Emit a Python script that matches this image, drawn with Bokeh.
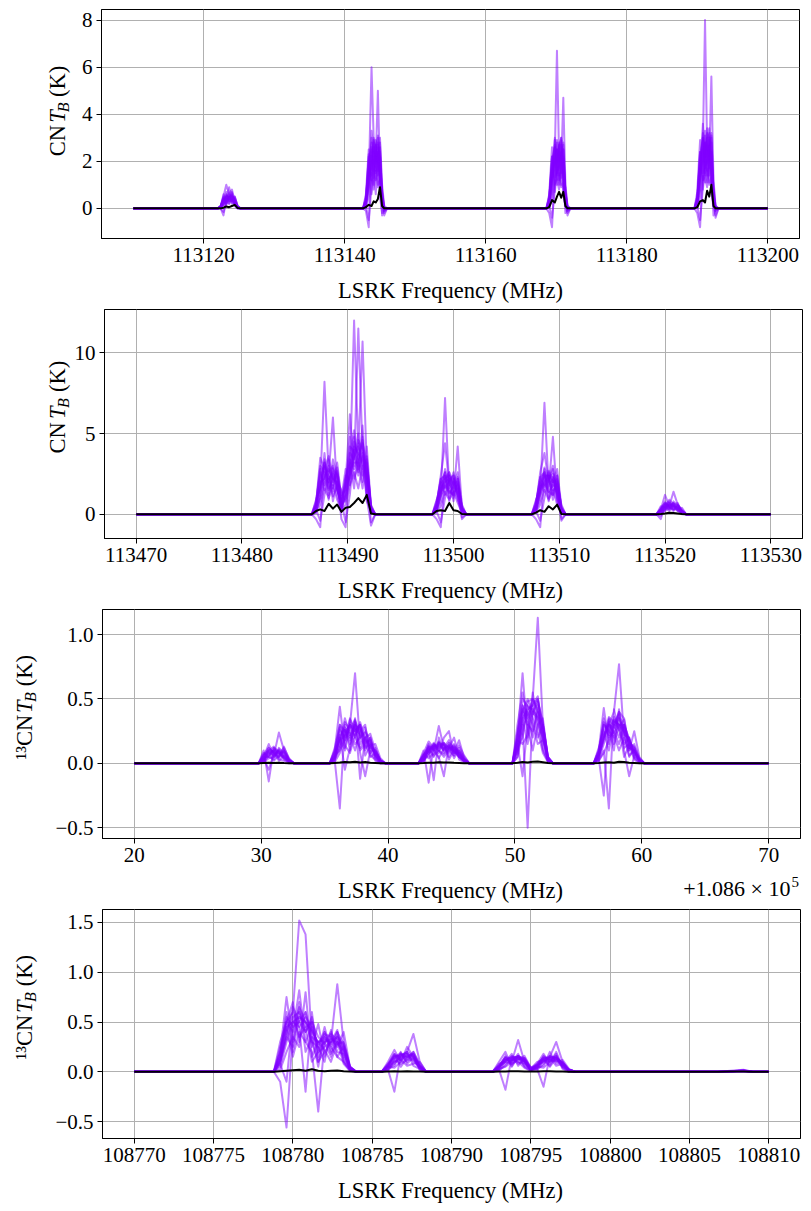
from math import pi

from bokeh.core.properties import value
from bokeh.embed import file_html
from bokeh.layouts import column, row
from bokeh.models import FixedTicker, Range1d
from bokeh.plotting import figure
from bokeh.resources import INLINE

# ---------------------------------------------------------------------------
# Spectra: channel windows (MHz) around each hyperfine group; outside the
# windows every spectrum sits at 0 K.  Each predictive sample lists its
# brightness temperature (K) per window; *_obs is the observed spectrum.
# ---------------------------------------------------------------------------

# CN, first spectral window
cn_a_span = [113110.0, 113200.0]
cn_a_windows = [
    [113122.0, 113122.4, 113122.8, 113123.2, 113123.6, 113124.0, 113124.4, 113124.8, 113125.2],
    [113142.6, 113143.0, 113143.4, 113143.8, 113144.1, 113144.4, 113144.7, 113145.0, 113145.3, 113145.6, 113146.0],
    [113168.6, 113169.0, 113169.4, 113169.8, 113170.1, 113170.4, 113170.7, 113171.0, 113171.3, 113171.6, 113172.0],
    [113189.6, 113190.0, 113190.4, 113190.8, 113191.1, 113191.4, 113191.7, 113192.0, 113192.3, 113192.6, 113193.0],
]
cn_a_samples = [
    [[0, 0.1, 0.5, 1.0, 0.6, 0.8, 0.3, 0.05, 0],
     [0, 0.3, 1.2, 6.0, 3.0, 2.0, 5.0, 1.5, 0.3, -0.2, 0],
     [0, 0.2, 1.0, 2.4, 6.7, 2.2, 1.8, 4.7, 1.0, 0.1, 0],
     [0, 0.3, 1.2, 2.8, 8.0, 2.6, 2.0, 5.6, 1.2, 0.1, 0]],
    [[0, 0, -0.3, 0.4, 0.9, 0.4, 0.5, 0.1, 0],
     [0, 0.2, 1.5, 3.3, 2.4, 2.0, 3.1, 1.8, 0.2, 0, 0],
     [0, 0.3, 1.4, 3.0, 2.0, 2.6, 3.0, 1.5, 0.3, -0.2, 0],
     [0, 0.3, 1.6, 3.6, 2.2, 3.2, 3.0, 1.6, 0.3, -0.3, 0]],
    [[0, 0.05, 0.3, 0.6, 0.4, 0.7, 0.2, 0, 0],
     [0, -0.1, -0.8, 2.0, 2.8, 1.6, 2.2, 2.6, 0.4, -0.3, 0],
     [0, -0.2, -0.8, 1.5, 2.9, 1.2, 2.2, 2.5, 0.6, 0, 0],
     [0, -0.2, -0.8, 1.6, 3.3, 1.4, 2.4, 3.1, 0.6, 0, 0]],
    [[0, 0.1, 0.4, 0.2, 0.5, 0.3, 0.45, 0.1, 0],
     [0, 0.4, 2.2, 1.2, 3.0, 2.5, 1.4, 2.0, 0.6, 0, 0],
     [0, 0.5, 2.2, 1.0, 1.8, 2.8, 1.3, 2.0, 0.2, -0.3, 0],
     [0, 0.5, 2.4, 1.2, 2.0, 3.4, 1.4, 2.3, 0.3, -0.4, 0]],
    [[0, 0, 0.2, 0.5, 0.3, 0.4, 0.15, 0, 0],
     [0, 0.1, 0.8, 2.6, 1.0, 2.2, 2.8, 0.5, -0.2, 0, 0],
     [0, 0.1, 0.6, 2.6, 1.4, 1.9, 2.6, 0.6, 0.1, 0, 0],
     [0, 0.1, 0.8, 3.0, 1.5, 2.0, 2.9, 0.8, 0.1, 0, 0]],
    [[0, 0.05, 0.6, 0.3, 0.2, 0.55, 0.3, 0.05, 0],
     [0, 0.2, 1.0, 1.8, 2.2, 1.2, 1.8, 3.0, 1.0, 0.1, 0],
     [0, 0.2, 1.6, 1.9, 2.5, 1.0, 1.6, 2.8, 0.9, 0, 0],
     [0, 0.3, 1.7, 2.0, 2.8, 1.1, 1.8, 3.2, 1.0, 0, 0]],
    [[0, 0, 0.15, 0.35, 0.5, 0.25, 0.2, 0, 0],
     [0, 0, 0.5, 1.5, 0.8, 1.6, 1.0, 1.2, 0.3, 0, 0],
     [0, 0, 0.4, 1.2, 1.0, 1.5, 0.9, 1.1, 0.2, 0, 0],
     [0, 0, 0.5, 1.4, 1.1, 1.7, 1.0, 1.3, 0.2, 0, 0]],
    [[0, 0.1, 0.3, 0.7, 0.2, 0.35, 0.5, 0.1, 0],
     [0, 0.3, 1.8, 2.8, 1.7, 0.6, 2.4, 1.4, -0.3, 0, 0],
     [0, 0.4, 2.0, 2.7, 1.2, 0.8, 2.3, 1.3, -0.2, 0, 0],
     [0, 0.4, 2.2, 3.0, 1.3, 0.9, 2.6, 1.5, -0.3, 0, 0]],
    [[0, 0, -0.15, 0.25, 0.45, 0.6, 0.1, 0, 0],
     [0, 0.1, -0.5, 0.9, 1.9, 2.9, 0.9, 2.2, 0.8, 0, 0],
     [0, 0.1, -0.4, 0.8, 2.0, 2.4, 1.0, 2.1, 0.7, 0.1, 0],
     [0, 0.1, -0.5, 0.9, 2.2, 2.7, 1.1, 2.4, 0.8, 0.1, 0]],
    [[0, 0.05, 0.45, 0.2, 0.65, 0.2, 0.3, 0.05, 0],
     [0, 0.6, 2.5, 0.6, 1.4, 2.0, 2.6, 0.9, 0.1, 0, 0],
     [0, 0.6, 2.6, 0.7, 1.5, 1.8, 2.9, 0.8, 0.1, 0, 0],
     [0, 0.7, 2.9, 0.8, 1.7, 2.1, 3.2, 0.9, 0.1, 0, 0]],
    [[0, 0.05, 0.25, 0.45, 0.55, 0.35, 0.25, 0.05, 0],
     [0, 0.2, 1.2, 2.2, 2.6, 1.9, 2.4, 1.7, 0.5, 0, 0],
     [0, 0.2, 1.3, 2.1, 2.5, 2.0, 2.4, 1.8, 0.5, 0, 0],
     [0, 0.2, 1.4, 2.4, 2.8, 2.2, 2.7, 2.0, 0.5, 0, 0]],
    [[0, 0.1, 0.35, 0.5, 0.3, 0.5, 0.35, 0.05, 0],
     [0, 0.4, 2.0, 2.5, 1.6, 2.7, 1.9, 2.2, 0.3, -0.1, 0],
     [0, 0.4, 1.9, 2.6, 1.5, 2.7, 2.0, 2.2, 0.3, -0.1, 0],
     [0, 0.4, 2.1, 2.9, 1.7, 3.0, 2.2, 2.4, 0.3, -0.1, 0]],
    [[0, 0.02, 0.2, 0.3, 0.6, 0.45, 0.15, 0.02, 0],
     [0, 0.1, 1.4, 1.7, 2.9, 2.2, 2.7, 1.2, 0.7, 0, 0],
     [0, 0.1, 1.2, 1.8, 2.8, 2.3, 2.7, 1.3, 0.7, 0, 0],
     [0, 0.1, 1.3, 2.0, 3.1, 2.5, 3.0, 1.4, 0.7, 0, 0]],
    [[0, 0.08, 0.5, 0.4, 0.35, 0.3, 0.4, 0.08, 0],
     [0, 0.3, 0.9, 3.0, 2.0, 1.5, 2.2, 2.4, 0.2, 0, 0],
     [0, 0.3, 0.8, 2.9, 2.1, 1.4, 2.3, 2.5, 0.2, 0, 0],
     [0, 0.3, 0.9, 3.2, 2.3, 1.6, 2.6, 2.8, 0.2, 0, 0]],
    [[0, 0.03, 0.15, 0.55, 0.4, 0.65, 0.25, 0.03, 0],
     [0, 0.5, 1.6, 2.2, 1.3, 2.6, 3.0, 1.6, 0.4, -0.1, 0],
     [0, 0.5, 1.7, 2.3, 1.2, 2.5, 3.0, 1.7, 0.4, -0.1, 0],
     [0, 0.5, 1.8, 2.5, 1.4, 2.8, 3.4, 1.9, 0.4, -0.1, 0]],
    [[0, 0.06, 0.4, 0.15, 0.45, 0.5, 0.2, 0.04, 0],
     [0, 0.2, 2.3, 1.4, 2.4, 1.8, 1.6, 2.8, 0.6, 0, 0],
     [0, 0.2, 2.2, 1.3, 2.5, 1.9, 1.5, 2.7, 0.6, 0, 0],
     [0, 0.2, 2.4, 1.5, 2.7, 2.1, 1.7, 3.0, 0.6, 0, 0]],
]
cn_a_obs = [
    [0, 0, 0.03, 0.08, 0.05, 0.1, 0.15, 0.02, 0],
    [0, 0.05, 0.15, 0.1, 0.3, 0.25, 0.4, 0.9, 0.1, 0, 0],
    [0, 0.05, 0.35, 0.25, 0.5, 0.7, 0.45, 0.7, 0.1, 0, 0],
    [0, 0.05, 0.3, 0.35, 0.25, 0.75, 0.5, 1.0, 0.1, 0, 0],
]

# CN, second spectral window
cn_b_span = [113470.0, 113530.0]
cn_b_windows = [
    [113486.6, 113487.0, 113487.4, 113487.8, 113488.2, 113488.6, 113489.0, 113489.4,
     113489.8, 113490.2, 113490.6, 113491.0, 113491.4, 113491.8, 113492.2, 113492.6],
    [113498.0, 113498.4, 113498.8, 113499.2, 113499.6, 113500.0, 113500.4, 113500.8, 113501.2],
    [113507.4, 113507.8, 113508.2, 113508.6, 113509.0, 113509.4, 113509.8, 113510.2, 113510.6],
    [113519.2, 113519.6, 113520.0, 113520.4, 113520.8, 113521.2, 113521.6, 113522.0],
]
cn_b_samples = [
    [[0, 0.4, 1.8, 8.2, 2.5, 6.0, 1.5, 0.5, 1.0, 2.5, 12.0, 4.0, 10.7, 3.0, 0.3, 0],
     [0, 0.3, 1.2, 7.2, 1.5, 1.2, 4.2, 0.4, 0],
     [0, 0.3, 1.4, 6.9, 1.6, 4.8, 1.0, 0.2, 0],
     [0, 0.3, 1.2, 0.5, 1.4, 0.6, 0.2, 0]],
    [[0, 0.6, 3.5, 2.8, 3.6, 2.0, 2.5, 0.4, 2.0, 6.2, 3.0, 11.5, 4.0, 2.2, 0.2, 0],
     [0, 0.6, 2.4, 4.4, 1.8, 2.6, 1.5, 0.3, 0],
     [0, 0.6, 2.6, 3.8, 2.0, 2.8, 1.4, 0.3, 0],
     [0, 0.5, 0.4, 0.9, 0.6, 0.7, 0.1, 0]],
    [[0, -0.3, -0.8, 3.0, 1.6, 3.4, 2.2, -0.3, -0.8, 3.5, 5.2, 2.8, 4.8, 1.0, -0.7, 0],
     [0, -0.3, -0.8, 2.2, 2.6, 1.0, 2.2, -0.2, 0],
     [0, -0.3, -0.8, 2.4, 2.4, 1.2, 2.2, -0.4, 0],
     [0, -0.3, 0.6, 0.8, 0.3, 0.5, 0.2, 0]],
    [[0, 0.8, 2.6, 1.5, 2.4, 1.6, 3.2, 1.0, 2.8, 1.8, 4.5, 3.6, 2.0, 4.2, 0.5, 0],
     [0, 0.8, 2.0, 1.2, 2.4, 1.8, 2.6, 0.6, 0],
     [0, 0.8, 2.0, 1.4, 2.6, 2.0, 2.8, 0.5, 0],
     [0, 0.2, 0.8, 0.4, 0.7, 0.3, 0.4, 0]],
    [[0, 0.2, 1.0, 3.8, 1.2, 2.6, 1.2, 0.2, 1.4, 4.8, 2.2, 3.0, 5.5, 1.5, 0.1, 0],
     [0, 0.2, 0.8, 2.6, 1.0, 2.2, 0.9, 0.1, 0],
     [0, 0.2, 0.9, 2.8, 1.0, 2.3, 0.8, 0.1, 0],
     [0, 0.1, 0.3, 0.6, 0.5, 0.2, 0.1, 0]],
    [[0, 0.5, 2.0, 2.2, 3.0, 0.8, 2.0, 1.5, 0.8, 2.4, 3.8, 5.0, 2.4, 3.2, 0.6, 0],
     [0, 0.4, 1.6, 2.0, 2.2, 0.8, 1.9, 0.5, 0],
     [0, 0.4, 1.7, 2.0, 2.4, 0.9, 2.0, 0.6, 0],
     [0, 0.3, 0.5, 0.3, 0.8, 0.5, 0.2, 0]],
    [[0, 0.1, 0.6, 1.6, 1.0, 1.8, 0.9, 0.3, 0.6, 1.8, 2.6, 1.6, 3.0, 1.2, 0.1, 0],
     [0, 0.1, 0.5, 1.4, 0.9, 1.4, 0.7, 0.1, 0],
     [0, 0.1, 0.6, 1.5, 0.9, 1.5, 0.6, 0.1, 0],
     [0, 0, 0.2, 0.4, 0.3, 0.3, 0, 0]],
    [[0, 0.7, 3.0, 2.6, 0.9, 2.9, 1.6, 0.6, 2.2, 3.2, 1.6, 4.4, 3.4, 2.6, -0.5, 0],
     [0, 0.7, 2.2, 2.4, 0.8, 2.0, 1.2, -0.3, 0],
     [0, 0.7, 2.3, 2.6, 0.8, 2.1, 1.2, -0.3, 0],
     [0, 0.4, 0.7, 0.5, 0.2, 0.6, 0.3, 0]],
    [[0, 0.3, -0.4, 1.2, 2.2, 1.4, 2.6, 0.8, -0.5, 1.2, 4.0, 2.4, 3.8, 0.8, 0.2, 0],
     [0, 0.2, -0.5, 1.0, 2.0, 2.4, 1.0, 0.3, 0],
     [0, 0.2, -0.4, 1.0, 2.1, 3.0, 1.0, 0.3, 0],
     [0, -0.1, 0.3, 0.7, 0.6, 0.2, 0.1, 0]],
    [[0, 0.9, 1.6, 3.2, 2.0, 1.1, 1.8, 0.2, 1.6, 2.8, 3.2, 3.2, 1.6, 3.6, 0.4, 0],
     [0, 0.9, 1.4, 1.8, 1.4, 1.2, 2.2, 0.4, 0],
     [0, 0.9, 1.5, 1.9, 1.4, 1.2, 2.4, 0.4, 0],
     [0, 0.2, 0.4, 0.2, 0.5, 0.4, 0.2, 0]],
    [[0, 0.3, 1.5, 2.4, 2.8, 2.2, 2.0, 0.6, 1.2, 3.0, 4.2, 3.8, 3.2, 2.4, 0.3, 0],
     [0, 0.3, 1.4, 2.2, 2.4, 1.6, 1.8, 0.3, 0],
     [0, 0.3, 1.5, 2.3, 2.4, 1.7, 1.9, 0.3, 0],
     [0, 0.2, 0.5, 0.6, 0.5, 0.4, 0.1, 0]],
    [[0, 0.5, 2.2, 3.2, 2.0, 2.8, 2.4, 0.9, 1.8, 3.8, 3.4, 4.6, 4.0, 2.0, 0.2, 0],
     [0, 0.5, 1.9, 2.6, 1.6, 2.2, 1.4, 0.2, 0],
     [0, 0.5, 2.0, 2.6, 1.7, 2.3, 1.5, 0.2, 0],
     [0, 0.3, 0.6, 0.4, 0.6, 0.3, 0.1, 0]],
    [[0, 0.2, 1.0, 2.0, 3.4, 1.8, 2.9, 0.4, 1.0, 2.6, 4.8, 3.0, 4.4, 3.0, 0.5, 0],
     [0, 0.2, 1.1, 1.8, 2.6, 1.9, 2.0, 0.4, 0],
     [0, 0.2, 1.2, 1.9, 2.7, 2.0, 2.1, 0.4, 0],
     [0, 0.1, 0.4, 0.7, 0.4, 0.5, 0.2, 0]],
    [[0, 0.6, 2.8, 1.8, 2.6, 3.0, 1.5, 0.8, 2.4, 2.2, 3.6, 4.2, 2.8, 3.4, 0.4, 0],
     [0, 0.6, 2.2, 1.6, 2.1, 2.4, 1.2, 0.3, 0],
     [0, 0.6, 2.3, 1.7, 2.2, 2.5, 1.3, 0.3, 0],
     [0, 0.3, 0.7, 0.5, 0.3, 0.4, 0.1, 0]],
    [[0, 0.4, 1.8, 2.9, 1.5, 2.2, 2.7, 1.2, 1.5, 3.4, 2.8, 3.5, 4.6, 1.8, 0.2, 0],
     [0, 0.4, 1.6, 2.4, 1.3, 1.7, 2.3, 0.3, 0],
     [0, 0.4, 1.7, 2.5, 1.4, 1.8, 2.4, 0.3, 0],
     [0, 0.2, 0.3, 0.5, 0.7, 0.3, 0.2, 0]],
    [[0, 0.1, 1.2, 3.4, 2.2, 2.5, 1.8, 0.5, 2.0, 4.2, 3.9, 2.6, 3.6, 2.8, 0.3, 0],
     [0, 0.2, 1.3, 2.8, 2.0, 1.4, 1.6, 0.2, 0],
     [0, 0.2, 1.4, 2.9, 2.1, 1.5, 1.7, 0.2, 0],
     [0, 0.1, 0.6, 0.3, 0.5, 0.6, 0.1, 0]],
]
cn_b_obs = [
    [0, 0.2, 0.3, 0.2, 0.65, 0.35, 0.6, 0.15, 0.4, 0.45, 0.7, 1.0, 0.7, 1.2, 0.05, 0],
    [0, 0.2, 0.25, 0.2, 0.7, 0.25, 0.2, 0.02, 0],
    [0, 0.1, 0.25, 0.15, 0.5, 0.3, 0.6, 0.02, 0],
    [0, 0.02, 0.05, 0.1, 0.08, 0.05, 0.02, 0],
]

# 13CN, first spectral window (axis shown as offset from 1.086e5 MHz)
c13_a_offset = 108600.0
c13_a_span = [108620.0, 108670.0]
c13_a_windows = [
    [108629.8, 108630.2, 108630.6, 108631.0, 108631.4, 108631.8, 108632.2, 108632.6],
    [108635.4, 108635.8, 108636.2, 108636.6, 108637.0, 108637.4, 108637.8, 108638.2,
     108638.6, 108639.0, 108639.4, 108639.8],
    [108642.4, 108642.8, 108643.2, 108643.6, 108644.0, 108644.4, 108644.8, 108645.2,
     108645.6, 108646.0, 108646.4],
    [108649.8, 108650.2, 108650.6, 108651.0, 108651.4, 108651.8, 108652.2, 108652.6, 108653.0],
    [108656.2, 108656.6, 108657.0, 108657.4, 108657.8, 108658.2, 108658.6, 108659.0,
     108659.4, 108659.8, 108660.2],
]
c13_a_samples = [
    [[0, 0.05, 0.15, 0.06, 0.24, 0.1, 0.02, 0],
     [0, 0.05, 0.2, 0.1, 0.3, 0.7, 0.15, 0.2, 0.23, 0.1, 0.02, 0],
     [0, 0.05, 0.15, 0.1, 0.29, 0.12, 0.18, 0.1, 0.05, 0.02, 0],
     [0, 0.1, 0.4, 0.3, 0.5, 1.13, 0.3, 0.05, 0],
     [0, 0.05, 0.2, 0.3, 0.4, 0.77, 0.2, 0.1, 0.25, 0.05, 0]],
    [[0, 0.1, -0.14, 0.12, 0.05, 0.13, 0.03, 0],
     [0, 0.1, 0.44, 0.12, 0.35, 0.25, 0.3, 0.1, 0.2, 0.05, 0.01, 0],
     [0, 0.1, -0.15, 0.15, 0.08, 0.2, 0.25, 0.06, 0.12, 0.03, 0],
     [0, 0.2, 0.7, 0.2, 0.55, 0.3, 0.2, 0.02, 0],
     [0, 0.1, 0.43, 0.15, 0.3, 0.4, 0.35, 0.12, 0.1, 0.02, 0]],
    [[0, 0.02, 0.1, 0.13, 0.08, 0.04, 0.01, 0],
     [0, 0.02, -0.35, 0.3, 0.1, 0.35, -0.12, 0.2, 0.08, 0.12, 0.02, 0],
     [0, 0.02, 0.12, -0.13, 0.2, 0.08, 0.12, 0.2, 0.05, 0.01, 0],
     [0, 0.05, 0.3, -0.5, 0.4, 0.5, 0.25, 0.03, 0],
     [0, 0.02, 0.1, -0.35, 0.42, 0.25, 0.15, 0.2, 0.05, 0.01, 0]],
    [[0, 0.08, 0.05, 0.03, 0.12, 0.08, 0.02, 0],
     [0, 0.12, 0.3, 0.25, 0.15, 0.28, 0.22, 0.12, 0.15, 0.04, 0, 0],
     [0, 0.08, 0.17, 0.12, 0.05, -0.1, 0.15, 0.08, 0.18, 0.04, 0],
     [0, 0.3, 0.55, 0.35, 0.2, 0.45, 0.12, 0.01, 0],
     [0, 0.08, 0.3, 0.25, 0.2, 0.35, 0.12, 0.15, 0.08, 0.03, 0]],
    [[0, 0.03, 0.12, 0.08, 0.02, 0.06, 0.01, 0],
     [0, 0.03, 0.15, 0.35, 0.22, 0.1, 0.25, 0.3, 0.05, 0.08, 0.01, 0],
     [0, 0.03, 0.06, 0.14, 0.12, 0.15, 0.05, 0.12, 0.08, 0.02, 0],
     [0, 0.12, 0.2, 0.45, 0.35, 0.2, 0.3, 0.05, 0],
     [0, 0.04, -0.25, 0.35, 0.15, 0.3, 0.25, 0.05, 0.12, 0.02, 0]],
    [[0, 0.01, 0.06, 0.1, 0.04, 0.1, 0.03, 0],
     [0, 0.06, 0.1, 0.18, 0.3, 0.2, 0.12, 0.18, 0.12, 0.1, 0.03, 0],
     [0, 0.06, 0.12, 0.05, 0.16, 0.1, 0.14, 0.04, 0.1, 0.05, 0],
     [0, 0.08, 0.35, 0.15, 0.4, 0.35, 0.1, 0.02, 0],
     [0, 0.12, 0.25, 0.1, 0.3, 0.2, 0.3, 0.18, 0.04, 0.01, 0]],
    [[0, 0.04, -0.05, 0.07, 0.1, 0.03, 0.01, 0],
     [0, 0.02, 0.22, -0.05, 0.12, 0.32, 0.08, -0.1, 0.1, 0.02, 0, 0],
     [0, 0.01, 0.08, 0.1, 0.04, 0.12, 0.08, 0.15, 0.03, 0.01, 0],
     [0, 0.15, -0.1, 0.3, 0.25, 0.4, 0.2, 0.04, 0],
     [0, 0.03, 0.15, 0.28, 0.1, 0.42, 0.1, -0.1, 0.06, 0.02, 0]],
    [[0, 0.02, 0.08, 0.02, 0.06, 0.12, 0.04, 0],
     [0, 0.08, 0.18, 0.22, 0.25, 0.15, 0.2, 0.25, 0.18, 0.06, 0.02, 0],
     [0, 0.04, 0.1, 0.16, 0.1, 0.05, 0.1, 0.06, 0.14, 0.06, 0],
     [0, 0.25, 0.45, 0.28, 0.1, 0.3, 0.35, 0.03, 0],
     [0, 0.07, 0.35, 0.2, 0.25, 0.15, 0.28, 0.1, 0.15, 0.04, 0]],
    [[0, 0.06, 0.1, 0.09, 0.03, 0.02, 0, 0],
     [0, 0.04, 0.28, 0.14, 0.08, 0.22, 0.3, 0.06, 0.14, 0.15, 0.04, 0],
     [0, 0.07, 0.04, 0.08, 0.14, 0.16, 0.03, 0.1, 0.05, 0.02, 0],
     [0, 0.05, 0.25, 0.4, 0.3, 0.15, 0.18, 0.02, 0],
     [0, 0.02, 0.08, 0.18, 0.33, 0.3, 0.05, 0.14, 0.03, 0, 0]],
    [[0, 0.01, 0.04, 0.05, 0.09, 0.05, 0.02, 0],
     [0, 0.01, 0.08, 0.26, 0.2, 0.3, 0.1, 0.15, 0.06, 0.03, 0, 0],
     [0, 0.02, 0.13, 0.06, 0.1, 0.07, 0.12, 0.13, 0.07, 0.03, 0],
     [0, 0.18, 0.15, 0.22, 0.45, 0.25, 0.08, 0.01, 0],
     [0, 0.06, 0.2, 0.32, 0.22, 0.1, 0.2, 0.06, 0.1, 0.03, 0]],
    [[0, 0.04, 0.08, 0.1, 0.07, 0.09, 0.02, 0],
     [0, 0.06, 0.2, 0.28, 0.22, 0.3, 0.26, 0.2, 0.14, 0.08, 0.02, 0],
     [0, 0.04, 0.1, 0.13, 0.15, 0.12, 0.14, 0.1, 0.07, 0.02, 0],
     [0, 0.15, 0.35, 0.42, 0.45, 0.5, 0.3, 0.04, 0],
     [0, 0.06, 0.22, 0.3, 0.28, 0.35, 0.26, 0.18, 0.1, 0.03, 0]],
    [[0, 0.06, 0.1, 0.05, 0.11, 0.06, 0.02, 0],
     [0, 0.1, 0.26, 0.2, 0.3, 0.25, 0.3, 0.16, 0.18, 0.06, 0.01, 0],
     [0, 0.06, 0.13, 0.1, 0.16, 0.14, 0.1, 0.12, 0.06, 0.02, 0],
     [0, 0.2, 0.45, 0.38, 0.5, 0.42, 0.25, 0.03, 0],
     [0, 0.09, 0.3, 0.26, 0.34, 0.3, 0.3, 0.14, 0.12, 0.02, 0]],
    [[0, 0.02, 0.06, 0.12, 0.09, 0.05, 0.01, 0],
     [0, 0.04, 0.14, 0.32, 0.26, 0.34, 0.2, 0.24, 0.1, 0.1, 0.02, 0],
     [0, 0.03, 0.08, 0.15, 0.12, 0.16, 0.12, 0.09, 0.08, 0.03, 0],
     [0, 0.12, 0.4, 0.5, 0.38, 0.48, 0.32, 0.05, 0],
     [0, 0.04, 0.18, 0.34, 0.3, 0.38, 0.22, 0.2, 0.08, 0.03, 0]],
    [[0, 0.07, 0.12, 0.08, 0.05, 0.1, 0.03, 0],
     [0, 0.08, 0.3, 0.18, 0.34, 0.22, 0.28, 0.14, 0.2, 0.05, 0.01, 0],
     [0, 0.05, 0.14, 0.11, 0.14, 0.1, 0.16, 0.11, 0.05, 0.02, 0],
     [0, 0.22, 0.5, 0.44, 0.42, 0.36, 0.22, 0.02, 0],
     [0, 0.1, 0.32, 0.22, 0.36, 0.28, 0.34, 0.12, 0.1, 0.02, 0]],
    [[0, 0.03, 0.09, 0.06, 0.1, 0.07, 0.02, 0],
     [0, 0.05, 0.22, 0.26, 0.18, 0.33, 0.22, 0.28, 0.12, 0.09, 0.02, 0],
     [0, 0.02, 0.11, 0.14, 0.1, 0.15, 0.11, 0.14, 0.09, 0.03, 0],
     [0, 0.1, 0.3, 0.48, 0.5, 0.4, 0.28, 0.04, 0],
     [0, 0.05, 0.26, 0.3, 0.24, 0.4, 0.24, 0.16, 0.13, 0.04, 0]],
    [[0, 0.05, 0.05, 0.11, 0.08, 0.04, 0.01, 0],
     [0, 0.03, 0.12, 0.24, 0.3, 0.2, 0.32, 0.18, 0.16, 0.07, 0.01, 0],
     [0, 0.06, 0.09, 0.12, 0.17, 0.11, 0.13, 0.08, 0.1, 0.02, 0],
     [0, 0.18, 0.42, 0.35, 0.46, 0.52, 0.2, 0.03, 0],
     [0, 0.07, 0.2, 0.36, 0.32, 0.26, 0.3, 0.19, 0.07, 0.02, 0]],
]
c13_a_obs = [
    [0, 0.002, 0.004, 0.003, 0.005, 0.002, 0.001, 0],
    [0, 0.003, 0.006, 0.01, 0.008, 0.012, 0.006, 0.01, 0.005, 0.003, 0.001, 0],
    [0, 0.002, 0.005, 0.004, 0.008, 0.006, 0.007, 0.004, 0.003, 0.001, 0],
    [0, 0.004, 0.01, 0.006, 0.012, 0.014, 0.008, 0.002, 0],
    [0, 0.002, 0.006, 0.008, 0.005, 0.012, 0.01, 0.004, 0.003, 0.001, 0],
]

# 13CN, second spectral window
c13_b_span = [108770.0, 108810.0]
c13_b_windows = [
    [108778.8, 108779.2, 108779.6, 108780.0, 108780.4, 108780.8, 108781.2, 108781.6,
     108782.0, 108782.4, 108782.8, 108783.2, 108783.6, 108784.0],
    [108785.6, 108786.0, 108786.4, 108786.8, 108787.2, 108787.6, 108788.0, 108788.4],
    [108792.6, 108793.0, 108793.4, 108793.8, 108794.2, 108794.6, 108795.0, 108795.4,
     108795.8, 108796.2, 108796.6, 108797.0, 108797.4, 108797.8],
    [108806.8, 108807.6, 108808.4, 108809.0],
]
c13_b_samples = [
    [[0, 0.1, 0.4, 0.6, 1.52, 1.38, 0.3, 0.1, 0.2, 0.3, 0.88, 0.3, 0.05, 0],
     [0, 0.05, 0.1, 0.15, 0.2, 0.38, 0.1, 0],
     [0, 0.05, 0.12, 0.1, 0.32, 0.1, 0.02, 0.05, 0.1, 0.15, 0.3, 0.1, 0.02, 0],
     [0, 0.01, 0.02, 0]],
    [[0, 0.2, 0.75, 0.3, 0.6, 0.4, 0.5, 0.2, 0.45, 0.2, 0.4, 0.2, 0.02, 0],
     [0, 0.1, 0.22, 0.1, 0.25, 0.15, 0.05, 0],
     [0, 0.1, 0.2, 0.05, 0.15, 0.12, 0.01, 0.08, 0.18, 0.08, 0.2, 0.05, 0.01, 0],
     [0, 0.005, 0.01, 0]],
    [[0, -0.1, -0.56, 0.4, 0.82, 0.3, 0.2, -0.4, 0.3, 0.4, 0.15, 0.1, 0.01, 0],
     [0, 0.02, -0.2, 0.18, 0.1, 0.2, 0.08, 0],
     [0, 0.02, -0.18, 0.15, 0.1, 0.08, 0.02, 0.03, -0.15, 0.16, 0.12, 0.08, 0.02, 0],
     [0, 0.004, 0.008, 0]],
    [[0, 0.3, 0.5, 0.7, 0.3, 0.6, 0.25, 0.48, 0.15, 0.35, 0.25, 0.4, 0.05, 0],
     [0, 0.08, 0.15, 0.12, 0.18, 0.1, 0.04, 0],
     [0, 0.08, 0.1, 0.18, 0.06, 0.14, 0.03, 0.1, 0.12, 0.1, 0.18, 0.04, 0, 0],
     [0, 0.006, 0.01, 0]],
    [[0, 0.05, 0.3, 0.5, 0.45, -0.2, 0.6, 0.1, 0.3, 0.15, 0.35, 0.12, 0.02, 0],
     [0, 0.03, 0.06, 0.2, 0.08, 0.15, 0.02, 0],
     [0, 0.03, 0.05, 0.1, 0.18, 0.05, 0.01, 0.04, 0.06, 0.2, 0.08, 0.1, 0.01, 0],
     [0, 0.003, 0.006, 0]],
    [[0, 0.15, 0.6, 0.2, 0.55, 0.5, 0.3, 0.25, 0.1, 0.42, 0.2, 0.18, 0.03, 0],
     [0, 0.06, 0.18, 0.05, 0.14, 0.2, 0.06, 0],
     [0, 0.06, 0.14, 0.08, 0.12, 0.16, 0.04, 0.06, 0.14, 0.05, 0.14, 0.06, 0.02, 0],
     [0, 0.005, 0.012, 0]],
    [[0, 0.02, 0.2, 0.35, 0.25, 0.8, 0.15, 0.3, 0.22, 0.1, 0.3, 0.08, 0.01, 0],
     [0, 0.01, 0.1, 0.12, 0.06, 0.08, 0.1, 0],
     [0, 0.01, 0.08, 0.12, 0.1, 0.04, 0.01, 0.02, 0.08, 0.12, 0.1, 0.12, 0.03, 0],
     [0, 0.004, 0.006, 0]],
    [[0, 0.25, 0.45, 0.15, 0.4, 0.3, 0.45, 0.15, 0.35, 0.25, 0.15, 0.25, 0.04, 0],
     [0, 0.04, 0.08, 0.16, 0.2, 0.06, 0.03, 0],
     [0, 0.04, 0.16, 0.06, 0.16, 0.1, 0.02, 0.07, 0.1, 0.14, 0.06, 0.08, 0.01, 0],
     [0, 0.006, 0.015, 0]],
    [[0, 0.08, -0.1, 0.55, 0.35, 0.45, 0.1, 0.2, 0.25, 0.3, 0.42, 0.1, 0.02, 0],
     [0, 0.02, 0.12, 0.08, 0.12, 0.12, 0.05, 0],
     [0, 0.02, 0.06, 0.14, 0.08, 0.12, 0.03, 0.03, 0.12, 0.06, 0.16, 0.03, 0, 0],
     [0, 0.003, 0.008, 0]],
    [[0, 0.12, 0.35, 0.25, 0.7, 0.2, 0.35, 0.05, 0.4, 0.18, 0.3, 0.15, 0.03, 0],
     [0, 0.05, 0.04, 0.1, 0.15, 0.18, 0.02, 0],
     [0, 0.05, 0.1, 0.08, 0.14, 0.06, 0.02, 0.05, 0.04, 0.1, 0.12, 0.05, 0.02, 0],
     [0, 0.005, 0.01, 0]],
    [[0, 0.1, 0.45, 0.5, 0.55, 0.5, 0.4, 0.3, 0.32, 0.3, 0.35, 0.25, 0.04, 0],
     [0, 0.06, 0.15, 0.17, 0.18, 0.15, 0.05, 0],
     [0, 0.05, 0.12, 0.14, 0.15, 0.1, 0.03, 0.06, 0.13, 0.15, 0.14, 0.08, 0.02, 0],
     [0, 0.004, 0.009, 0]],
    [[0, 0.18, 0.5, 0.6, 0.45, 0.55, 0.45, 0.25, 0.38, 0.35, 0.28, 0.3, 0.05, 0],
     [0, 0.08, 0.18, 0.14, 0.16, 0.18, 0.06, 0],
     [0, 0.07, 0.14, 0.11, 0.16, 0.12, 0.03, 0.07, 0.15, 0.12, 0.16, 0.07, 0.02, 0],
     [0, 0.005, 0.011, 0]],
    [[0, 0.08, 0.35, 0.55, 0.6, 0.45, 0.5, 0.35, 0.28, 0.38, 0.32, 0.22, 0.03, 0],
     [0, 0.04, 0.12, 0.18, 0.15, 0.13, 0.04, 0],
     [0, 0.04, 0.1, 0.16, 0.13, 0.11, 0.02, 0.05, 0.11, 0.16, 0.13, 0.09, 0.01, 0],
     [0, 0.003, 0.007, 0]],
    [[0, 0.2, 0.55, 0.45, 0.5, 0.6, 0.35, 0.3, 0.35, 0.28, 0.4, 0.28, 0.04, 0],
     [0, 0.07, 0.16, 0.15, 0.2, 0.16, 0.05, 0],
     [0, 0.06, 0.15, 0.13, 0.12, 0.14, 0.04, 0.08, 0.14, 0.14, 0.11, 0.1, 0.02, 0],
     [0, 0.006, 0.012, 0]],
    [[0, 0.12, 0.4, 0.65, 0.5, 0.4, 0.55, 0.22, 0.3, 0.33, 0.3, 0.2, 0.03, 0],
     [0, 0.05, 0.14, 0.19, 0.13, 0.17, 0.06, 0],
     [0, 0.03, 0.11, 0.15, 0.14, 0.09, 0.02, 0.06, 0.12, 0.13, 0.15, 0.06, 0.01, 0],
     [0, 0.004, 0.01, 0]],
    [[0, 0.15, 0.5, 0.4, 0.65, 0.5, 0.42, 0.28, 0.4, 0.26, 0.36, 0.26, 0.05, 0],
     [0, 0.06, 0.17, 0.12, 0.17, 0.14, 0.04, 0],
     [0, 0.05, 0.13, 0.12, 0.16, 0.13, 0.03, 0.04, 0.16, 0.11, 0.14, 0.08, 0.02, 0],
     [0, 0.005, 0.008, 0]],
]
c13_b_obs = [
    [0, 0.005, 0.01, 0.015, 0.02, 0.01, 0.025, 0.01, 0.005, 0.01, 0.012, 0.005, 0.002, 0],
    [0, 0.002, 0.005, 0.004, 0.006, 0.004, 0.002, 0],
    [0, 0.002, 0.004, 0.006, 0.005, 0.003, 0.002, 0.003, 0.005, 0.006, 0.004, 0.002, 0.001, 0],
    [0, 0.003, 0.004, 0],
]

# Axis ticks
cn_a_xticks = [113120, 113140, 113160, 113180, 113200]
cn_a_yticks = [0, 2, 4, 6, 8]
cn_b_xticks = [113470, 113480, 113490, 113500, 113510, 113520, 113530]
cn_b_yticks = [0, 5, 10]
c13_a_xticks = [108620, 108630, 108640, 108650, 108660, 108670]
c13_a_yticks = [-0.5, 0.0, 0.5, 1.0]
c13_b_xticks = [108770, 108775, 108780, 108785, 108790, 108795, 108800, 108805, 108810]
c13_b_yticks = [-0.5, 0.0, 0.5, 1.0, 1.5]

SAMPLE_COLOR = "#7f00ff"
FONT = "Liberation Serif"

# pixel layout of one panel: frame 698 x 229, 34 px of tick labels under it,
# then a strip carrying the axis title (which also holds the gap to the next panel)
FRAME_W, FRAME_H = 698, 229
BOTTOM, RIGHT, LEFT_TOTAL = 34, 12, 101
STRIP_H = 28
FULL_W = LEFT_TOTAL + FRAME_W + RIGHT
GAP = 8.5  # word space inside the rotated y titles


def spectrum(span, windows, values):
    """Join per-window values into one spectrum that is 0 K elsewhere."""
    xs, ys = [span[0]], [0.0]
    for w, v in zip(windows, values):
        for f, t in zip(w, v):
            xs.append(f)
            ys.append(t)
    xs.append(span[1])
    ys.append(0.0)
    return xs, ys


def minus(v, fmt):
    return fmt.format(v).replace("-", "\u2212")


def ints(ticks):
    return ["{:.0f}".format(t) for t in ticks]


def text_canvas(width, height):
    # bare canvas whose data units are pixels, used for the axis titles
    return figure(width=width, height=height, x_range=Range1d(0, width),
                  y_range=Range1d(0, height), x_axis_type=None, y_axis_type=None,
                  toolbar_location=None, output_backend="svg", min_border=0,
                  min_border_left=0, min_border_right=0, min_border_top=0,
                  min_border_bottom=0, outline_line_color=None,
                  background_fill_color="white", border_fill_color="white")


def put_text(f, x, y, text, size, style="normal", align="left", baseline="alphabetic", angle=0.0):
    f.text(x=[x], y=[y], text=[text], angle=angle, text_font=value(FONT),
           text_font_size=value(size), text_font_style=value(style), text_align=value(align),
           text_baseline=value(baseline), text_color="black")


def spectrum_plot(left, top, span, windows, samples, obs, xr, yr, xticks, yticks, yfmt, xlabels):
    p = figure(frame_width=FRAME_W, frame_height=FRAME_H, min_border_left=left,
               min_border_right=RIGHT, min_border_top=top, min_border_bottom=BOTTOM,
               x_range=Range1d(*xr), y_range=Range1d(*yr),
               toolbar_location=None, output_backend="svg", background_fill_color="white",
               border_fill_color="white")
    for s in samples:
        xs, ys = spectrum(span, windows, s)
        p.line(xs, ys, line_color=SAMPLE_COLOR, line_alpha=0.5, line_width=2, line_join="round")
    xs, ys = spectrum(span, windows, obs)
    p.line(xs, ys, line_color="black", line_width=2, line_join="round")

    p.xaxis.ticker = FixedTicker(ticks=xticks)
    p.yaxis.ticker = FixedTicker(ticks=yticks)
    p.xaxis.major_label_overrides = dict(zip(xticks, xlabels))
    p.yaxis.major_label_overrides = {t: minus(t, yfmt) for t in yticks}
    for ax in (p.xaxis[0], p.yaxis[0]):
        ax.major_label_text_font = FONT
        ax.major_label_text_font_size = "21px"
        ax.major_label_text_color = "black"
        ax.major_tick_out = 5
        ax.major_tick_in = 0
        ax.minor_tick_out = 0
        ax.minor_tick_in = 0
        ax.major_tick_line_color = "black"
        ax.axis_line_color = "black"
        ax.major_label_standoff = 4
    p.grid.grid_line_color = "#b0b0b0"
    p.grid.grid_line_width = 1
    p.outline_line_color = "black"
    p.outline_line_width = 1
    p.outline_line_alpha = 1
    return p


def build_panel(prefix, prefix_w, label_w, centre_x, top, gap_below, plot_args, offset_text=False):
    height = top + FRAME_H + BOTTOM
    p = spectrum_plot(LEFT_TOTAL - label_w, top, *plot_args)

    # rotated "<prefix> T_B (K)", centred on the frame; each entry carries the
    # piece's advance along the text line (word spaces added explicitly)
    lab = text_canvas(label_w, height)
    parts = [
        (prefix, "22.5px", "normal", 0, prefix_w + GAP),
        ("T", "22.5px", "italic", 0, 12.5),
        ("B", "16px", "italic", 6, 9.8 + GAP),
        ("(K)", "22.5px", "normal", 0, 31.2),
    ]
    total = sum(part[-1] for part in parts)
    y = BOTTOM + FRAME_H / 2 - total / 2
    for text, size, style, shift, w in parts:
        put_text(lab, centre_x + shift, y, text, size, style, baseline="middle", angle=pi / 2)
        y += w

    strip_h = STRIP_H + gap_below
    strip = text_canvas(FULL_W, strip_h)
    put_text(strip, LEFT_TOTAL + FRAME_W / 2, strip_h - 18, "LSRK Frequency (MHz)", "22.5px",
             align="center", baseline="middle")
    if offset_text:
        put_text(strip, LEFT_TOTAL + FRAME_W - 9, strip_h - 16, "+1.086 \u00d7 10", "22px",
                 align="right")
        put_text(strip, LEFT_TOTAL + FRAME_W - 8, strip_h - 9, "5", "15px")
    return column(row(lab, p, spacing=0), strip, spacing=0)


panel1 = build_panel("CN", 31.2, 71, 57, 9, 9,
                     (cn_a_span, cn_a_windows, cn_a_samples, cn_a_obs, (113105.5, 113204.5),
                      (-1.28, 8.45), cn_a_xticks, cn_a_yticks, "{:.0f}", ints(cn_a_xticks)))
panel2 = build_panel("CN", 31.2, 71, 57, 0, 9,
                     (cn_b_span, cn_b_windows, cn_b_samples, cn_b_obs, (113467.0, 113533.0),
                      (-1.5, 12.68), cn_b_xticks, cn_b_yticks, "{:.0f}", ints(cn_b_xticks)))
panel3 = build_panel("\u00b9\u00b3CN", 44.8, 52, 24, 0, 9,
                     (c13_a_span, c13_a_windows, c13_a_samples, c13_a_obs, (108617.5, 108672.5),
                      (-0.583, 1.194), c13_a_xticks, c13_a_yticks, "{:.1f}",
                      ints([t - c13_a_offset for t in c13_a_xticks])),
                     offset_text=True)
panel4 = build_panel("\u00b9\u00b3CN", 44.8, 52, 24, 0, 11,
                     (c13_b_span, c13_b_windows, c13_b_samples, c13_b_obs, (108768.0, 108812.0),
                      (-0.67, 1.63), c13_b_xticks, c13_b_yticks, "{:.1f}", ints(c13_b_xticks)))

layout = column(panel1, panel2, panel3, panel4, spacing=0)
open("out.html", "w").write(file_html(layout, INLINE))
